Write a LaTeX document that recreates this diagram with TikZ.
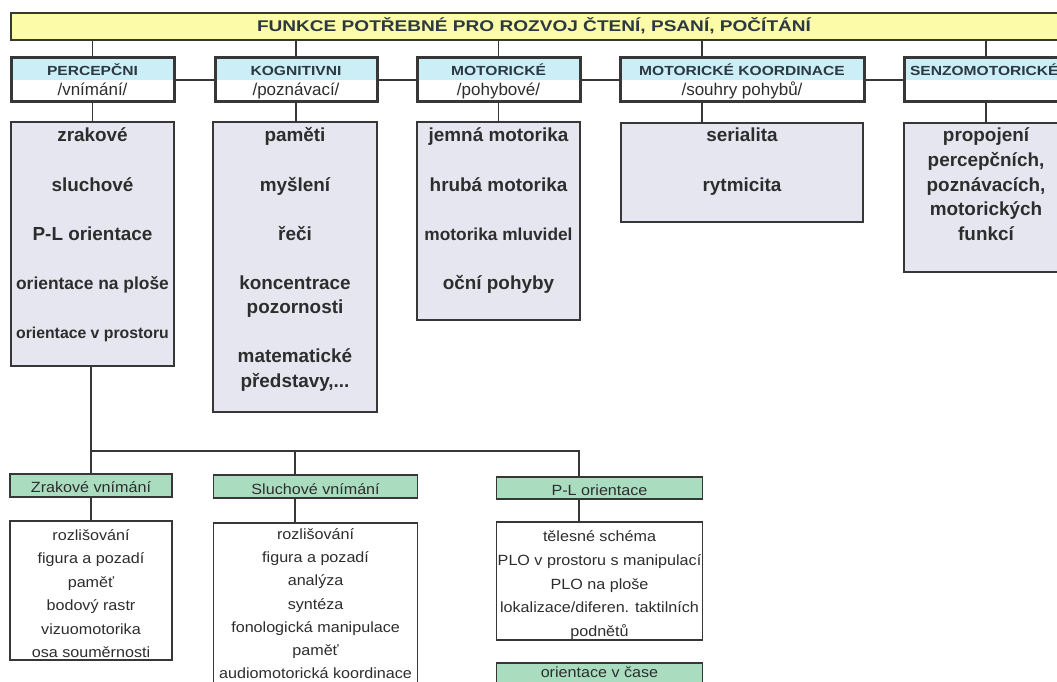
\documentclass[tikz,border=0pt]{standalone}
\usepackage{fontspec}
\setmainfont{Liberation Sans}
\newfontfamily\ttlfont{Liberation Sans}[FakeStretch=1.23]
\newfontfamily\capfont{Liberation Sans}[FakeStretch=1.18]
\newfontfamily\lstfont{Liberation Sans}[FakeStretch=1.09]
\definecolor{ylw}{RGB}{252,252,168}
\definecolor{hblue}{RGB}{204,238,246}
\definecolor{lav}{RGB}{230,230,241}
\definecolor{mint}{RGB}{170,221,192}
\definecolor{edge}{RGB}{55,55,55}
\definecolor{txt}{RGB}{45,45,45}
\definecolor{htxt}{RGB}{44,56,66}
\begin{document}
\begin{tikzpicture}[x=1pt,y=-1pt,
  box/.style={rectangle,inner sep=0pt,outer sep=0pt,draw=edge},
  titlebox/.style={box,fill=ylw,line width=2.4pt},
  hdr/.style={box,fill=white,line width=3pt,minimum height=44pt,
    path picture={\fill[hblue] (path picture bounding box.north west) rectangle (path picture bounding box.east);}},
  body/.style={box,fill=lav,line width=1.4pt},
  grn/.style={box,fill=mint,line width=1.4pt},
  lst/.style={box,fill=white,line width=1.4pt},
  conn/.style={draw=edge,line width=1.3pt},
  tx/.style={anchor=base,inner sep=0pt,outer sep=0pt,text=txt},
  ttxt/.style={tx,text=htxt,font=\ttlfont\fontsize{15.5pt}{18pt}\selectfont\bfseries},
  hcap/.style={tx,text=htxt,font=\capfont\fontsize{13.2pt}{16pt}\selectfont\bfseries},
  hsub/.style={tx,font=\fontsize{17pt}{19pt}\selectfont},
  btxt/.style={tx,font=\fontsize{18.9pt}{20pt}\selectfont\bfseries},
  ltxt/.style={tx,font=\lstfont\fontsize{14.8pt}{16pt}\selectfont},
]
\useasboundingbox (0,0) rectangle (1057,682);
\fill[white] (0,0) rectangle (1057,682);
\clip (0,0) rectangle (1057,682);

% title
\node[titlebox,minimum width=1064pt,minimum height=27pt] (title) at (543,26.5) {};
\node[ttxt] (ttl) at (534,32) {FUNKCE POTŘEBNÉ PRO ROZVOJ ČTENÍ, PSANÍ, POČÍTÁNÍ};

% headers
\node[hdr,minimum width=163pt] (h1) at (92.5,80) {};
\node[hdr,minimum width=162pt] (h2) at (296,80) {};
\node[hdr,minimum width=163pt] (h3) at (498.5,80) {};
\node[hdr,minimum width=244pt] (h4) at (742,80) {};
\node[hdr,minimum width=164pt] (h5) at (986,80) {};

\node[hcap] (h1a) at (92.5,76) {PERCEPČNI};
\node[hsub] (h1b) at (92.5,96) {/vnímání/};
\node[hcap] (h2a) at (296,76) {KOGNITIVNI};
\node[hsub] (h2b) at (296,96) {/poznávací/};
\node[hcap] (h3a) at (498.5,76) {MOTORICKÉ};
\node[hsub] (h3b) at (498.5,96) {/pohybové/};
\node[hcap] (h4a) at (742,76) {MOTORICKÉ KOORDINACE};
\node[hsub] (h4b) at (742,96) {/souhry pohybů/};
\node[hcap,anchor=base west] (h5a) at (910,76) {SENZOMOTORICKÉ};

% connectors title -> headers
\draw[conn] (h1.north) -- (h1.north |- title.south);
\draw[conn] (h2.north) -- (h2.north |- title.south);
\draw[conn] (h3.north) -- (h3.north |- title.south);
\draw[conn] ([xshift=-40pt]h4.north) -- ([xshift=-40pt]h4.north |- title.south);
\draw[conn] (h5.north) -- (h5.north |- title.south);
% header links
\draw[conn] (h1.east) -- (h2.west);
\draw[conn] (h2.east) -- (h3.west);
\draw[conn] (h3.east) -- (h4.west);
\draw[conn] (h4.east) -- (h5.west);

% bodies
\node[body,minimum width=163pt,minimum height=244pt] (b1) at (92.5,244) {};
\node[body,minimum width=164pt,minimum height=290pt] (b2) at (295,267) {};
\node[body,minimum width=163pt,minimum height=198pt] (b3) at (498.5,221) {};
\node[body,minimum width=242pt,minimum height=99pt] (b4) at (742,172.5) {};
\node[body,minimum width=164pt,minimum height=149pt] (b5) at (986,197.5) {};

\draw[conn] (h1.south) -- (h1.south |- b1.north);
\draw[conn] (h2.south) -- (h2.south |- b2.north);
\draw[conn] (h3.south) -- (h3.south |- b3.north);
\draw[conn] ([xshift=-40pt]h4.south) -- ([xshift=-40pt]h4.south |- b4.north);
\draw[conn] (h5.south) -- (h5.south |- b5.north);

\foreach \t/\y [count=\i] in {zrakové/142, sluchové/191, P-L orientace/240,
  {\fontsize{17.4pt}{18pt}\selectfont orientace na ploše}/289,
  {\fontsize{15.8pt}{17pt}\selectfont orientace v prostoru}/338}
  \node[btxt] (b1t\i) at (92.5,\y) {\t};
\foreach \t/\y [count=\i] in {paměti/142, myšlení/191, řeči/240, koncentrace/289,
  pozornosti/313.5, matematické/362.5, {představy,...}/387}
  \node[btxt] (b2t\i) at (295,\y) {\t};
\foreach \t/\y [count=\i] in {jemná motorika/142, hrubá motorika/191,
  {\fontsize{17.3pt}{18pt}\selectfont motorika mluvidel}/240.5, oční pohyby/289.5}
  \node[btxt] (b3t\i) at (498.5,\y) {\t};
\foreach \t/\y [count=\i] in {serialita/142, rytmicita/191}
  \node[btxt] (b4t\i) at (742,\y) {\t};
\foreach \t/\y [count=\i] in {propojení/142, {percepčních,}/166.5, {poznávacích,}/191,
  motorických/215.5, funkcí/240}
  \node[btxt] (b5t\i) at (986,\y) {\t};

% lower part
\node[grn,minimum width=162pt,minimum height=23pt] (g1) at (91,485.5) {};
\node[grn,minimum width=204pt,minimum height=23pt] (g2) at (315.6,486.5) {};
\node[grn,minimum width=206pt,minimum height=22pt] (g3) at (599.5,488) {};
\node[grn,minimum width=206pt,minimum height=24pt] (g4) at (599.5,675) {};
\node[ltxt] (g1t) at (91,492) {Zrakové vnímání};
\node[ltxt] (g2t) at (315.6,494) {Sluchové vnímání};
\node[ltxt] (g3t) at (599.5,495) {P-L orientace};
\node[ltxt] (g4t) at (599.5,677.5) {orientace v čase};

\node[lst,minimum width=162pt,minimum height=139pt] (l1) at (91,590.5) {};
\node[lst,minimum width=204pt,minimum height=178pt] (l2) at (315.6,612) {};
\node[lst,minimum width=206pt,minimum height=118pt] (l3) at (599.5,581) {};

\coordinate (jl) at (91,451);
\coordinate (jm) at (295,451);
\coordinate (jr) at (579,451);
\draw[conn] (b1.south -| jl) -- (g1.north);
\draw[conn] (jl) -- (jr) -- (jr |- g3.north);
\draw[conn] (jm) -- (jm |- g2.north);
\draw[conn] (g1.south) -- (l1.north);
\draw[conn] (jm |- g2.south) -- (jm |- l2.north);
\draw[conn] (jr |- g3.south) -- (jr |- l3.north);

\foreach \t/\y [count=\i] in {rozlišování/540, figura a pozadí/563.5, paměť/587,
  bodový rastr/610.5, vizuomotorika/634, osa souměrnosti/657.5}
  \node[ltxt] (l1t\i) at (91,\y) {\t};
\foreach \t/\y [count=\i] in {rozlišování/539.5, figura a pozadí/562.7, analýza/585.9,
  syntéza/609.1, fonologická manipulace/632.3, paměť/655.5, audiomotorická koordinace/678.7}
  \node[ltxt] (l2t\i) at (315.6,\y) {\t};
\foreach \t/\y [count=\i] in {tělesné schéma/541.5, PLO v prostoru s manipulací/565.3,
  PLO na ploše/589, {lokalizace/diferen. taktilních}/612.9, podnětů/636.5}
  \node[ltxt] (l3t\i) at (599.5,\y) {\t};
\end{tikzpicture}
\end{document}
